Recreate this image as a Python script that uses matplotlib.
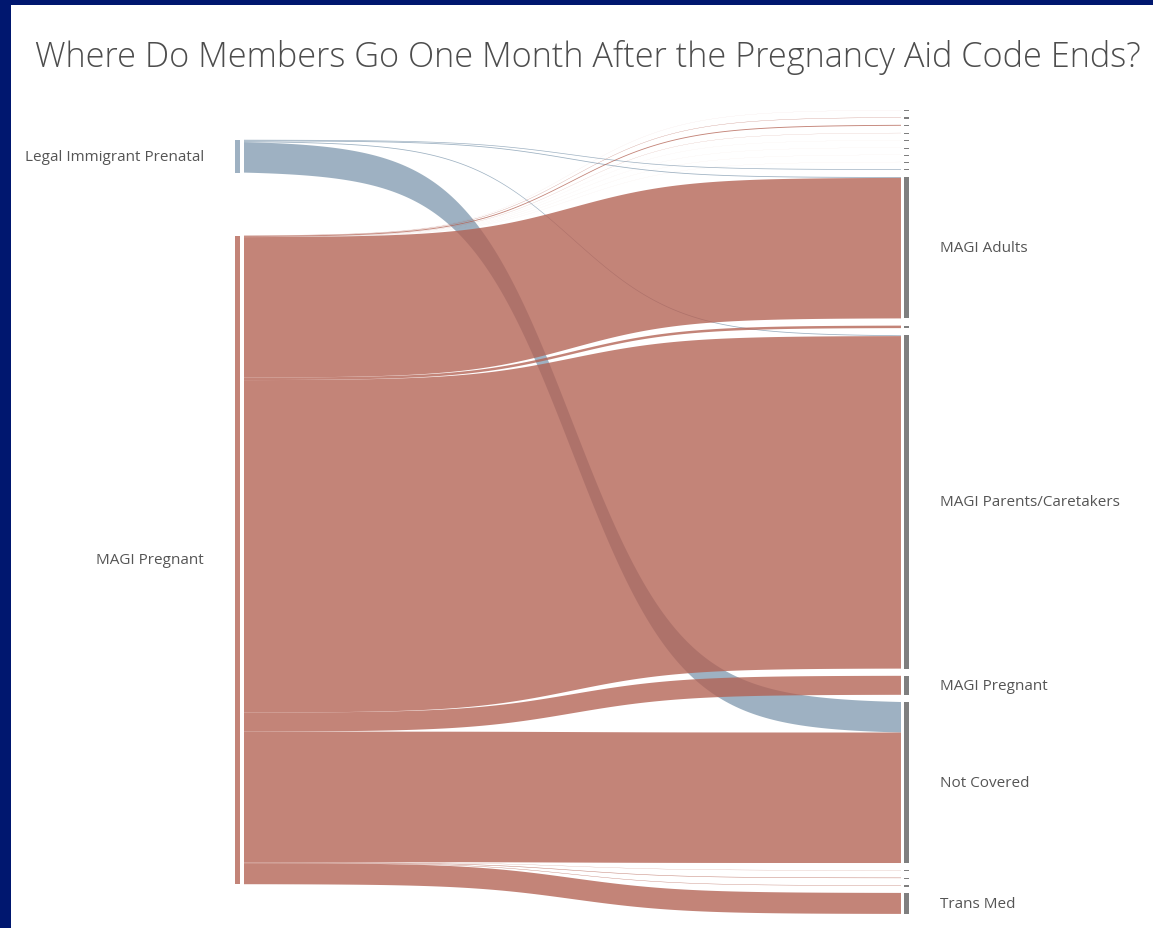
import numpy as np
import matplotlib.pyplot as plt
from matplotlib.patches import Rectangle

plt.rcParams['font.family'] = ['Open Sans', 'DejaVu Sans']

# nodes, top to bottom
sources = ['Legal Immigrant Prenatal', 'MAGI Pregnant']
targets = ['Other 1', 'Other 2', 'Other 3', 'Other 4', 'Other 5', 'Other 6',
           'Other 7', 'Other 8', 'Other 9', 'MAGI Adults', 'Other 10',
           'MAGI Parents/Caretakers', 'MAGI Pregnant', 'Not Covered',
           'Other 11', 'Other 12', 'Other 13', 'Trans Med']

# flows (source, target, members), relative units
flow_src = ['Legal Immigrant Prenatal'] * 4 + ['MAGI Pregnant'] * 17
flow_tgt = ['Other 9', 'MAGI Adults', 'MAGI Parents/Caretakers', 'Not Covered',
            'Other 1', 'Other 2', 'Other 3', 'Other 4', 'Other 5', 'Other 6',
            'Other 7', 'Other 8', 'MAGI Adults', 'Other 10',
            'MAGI Parents/Caretakers', 'MAGI Pregnant', 'Not Covered',
            'Other 11', 'Other 12', 'Other 13', 'Trans Med']
flow_val = [0.7, 0.8, 0.8, 30.5,
            0.05, 0.3, 0.9, 0.15, 0.03, 0.03, 0.03, 0.03, 140.5, 2.5,
            332.5, 19.0, 130.5, 0.2, 0.5, 0.4, 21.0]

src_colors = {'Legal Immigrant Prenatal': '#839cb1', 'MAGI Pregnant': '#b36152'}

W, H = 1153, 929
fig = plt.figure(figsize=(W / 100, H / 100), dpi=100)
ax = fig.add_axes([0, 0, 1, 1])
ax.set_xlim(0, W)
ax.set_ylim(H, 0)
ax.axis('off')

# layout
center_y = 513
gap_left, gap_right = 63, 7.2
x_left_bar, x_right_bar = 234.5, 903.5
bar_w = 5.5
x0, x1 = 244, 901


def column(nodes, totals, gap):
    span = sum(totals[n] for n in nodes) + gap * (len(nodes) - 1)
    y = center_y - span / 2
    tops = {}
    for n in nodes:
        tops[n] = y
        y += totals[n] + gap
    return tops


src_tot = {n: 0.0 for n in sources}
tgt_tot = {n: 0.0 for n in targets}
for s, t, v in zip(flow_src, flow_tgt, flow_val):
    src_tot[s] += v
    tgt_tot[t] += v

src_top = column(sources, src_tot, gap_left)
tgt_top = column(targets, tgt_tot, gap_right)

# stacking offsets at each end
idx = list(range(len(flow_val)))
src_y, tgt_y = {}, {}
off = dict(src_top)
for i in sorted(idx, key=lambda i: (sources.index(flow_src[i]), targets.index(flow_tgt[i]))):
    src_y[i] = off[flow_src[i]]
    off[flow_src[i]] += flow_val[i]
off = dict(tgt_top)
for i in sorted(idx, key=lambda i: (targets.index(flow_tgt[i]), sources.index(flow_src[i]))):
    tgt_y[i] = off[flow_tgt[i]]
    off[flow_tgt[i]] += flow_val[i]

t = np.linspace(0, 1, 200)
sig = 1 / (1 + np.exp(-12 * (t - 0.5)))
sig = (sig - sig[0]) / (sig[-1] - sig[0])
xs = x0 + (x1 - x0) * t

# blue first, red drawn over it
for i in sorted(idx, key=lambda i: sources.index(flow_src[i])):
    v = flow_val[i]
    top = src_y[i] + (tgt_y[i] - src_y[i]) * sig
    bot = top + v
    ax.fill(np.concatenate([xs, xs[::-1]]), np.concatenate([top, bot[::-1]]),
            color=src_colors[flow_src[i]], alpha=0.78, lw=0)

for n in sources:
    ax.add_patch(Rectangle((x_left_bar, src_top[n]), bar_w, src_tot[n],
                           color=src_colors[n], alpha=0.78, lw=0))
    ax.text(204, src_top[n] + src_tot[n] / 2, n, ha='right', va='center',
            fontsize=11, color='#555555')

for n in targets:
    h = max(tgt_tot[n], 1.2)
    ax.add_patch(Rectangle((x_right_bar, tgt_top[n]), bar_w, h,
                           color='#7f7f7f', lw=0))
    if tgt_tot[n] > 10:
        ax.text(940, tgt_top[n] + tgt_tot[n] / 2, n, ha='left', va='center',
                fontsize=11, color='#555555')

fig.text(35 / W, 1 - 67 / H,
         'Where Do Members Go One Month After the Pregnancy Aid Code Ends?',
         ha='left', va='baseline', fontsize=24.7, color='#4d4d4d', weight='light')

navy = '#00176f'
fig.add_artist(Rectangle((0, 1 - 6 / H), 1, 6 / H, transform=fig.transFigure,
                         color=navy, lw=0))
fig.add_artist(Rectangle((0, 0), 11 / W, 1, transform=fig.transFigure,
                         color=navy, lw=0))

fig.savefig('out.png', dpi=100, facecolor='white')
